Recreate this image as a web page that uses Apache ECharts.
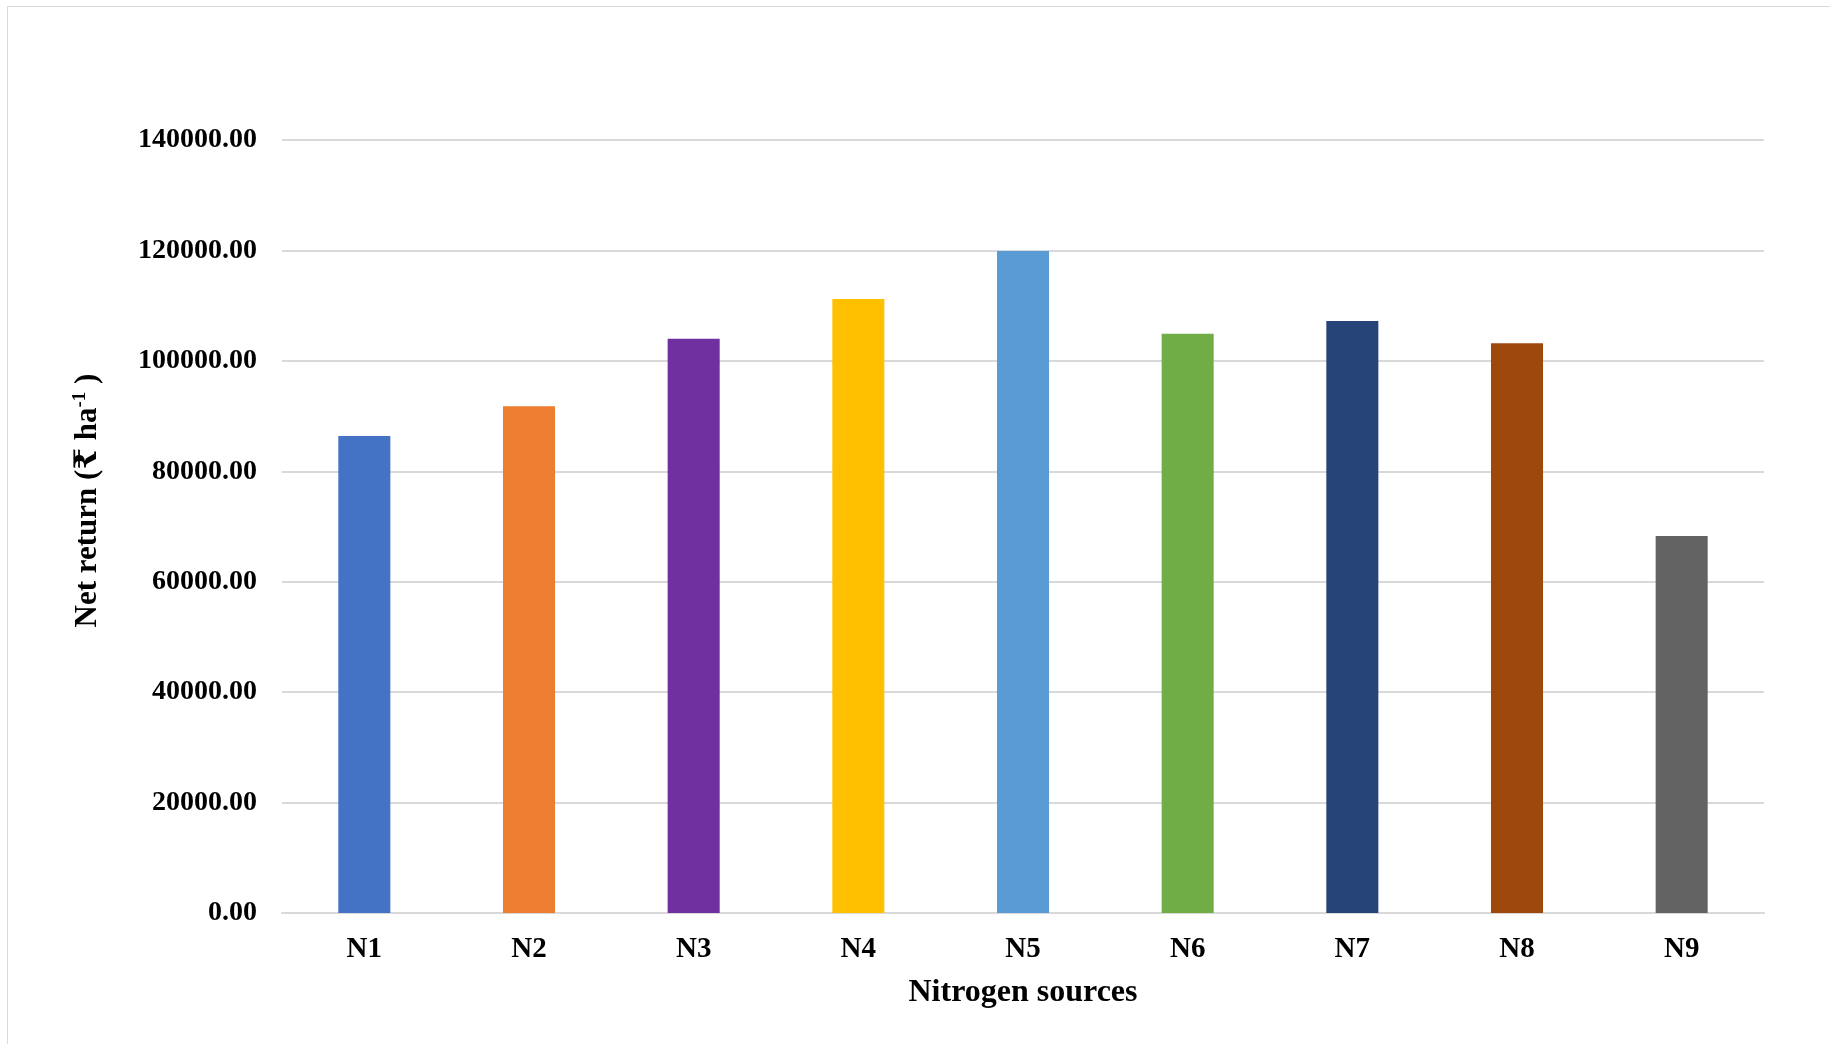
<!DOCTYPE html>
<html>
<head>
<meta charset="utf-8">
<script src="https://cdn.jsdelivr.net/npm/echarts@6/dist/echarts.min.js"></script>
<style>
  html, body { margin: 0; padding: 0; background: #ffffff; }
  #chart { width: 1830px; height: 1044px; }
</style>
</head>
<body>
<div id="chart"></div>
<script>
// Nitrogen source treatments and their net return (Rs per hectare)
const categories = ['N1', 'N2', 'N3', 'N4', 'N5', 'N6', 'N7', 'N8', 'N9'];
const netReturn = [86400, 91800, 104000, 111200, 119900, 104900, 107200, 103200, 68300];
const barColors = ['#4472C4', '#ED7D31', '#7030A0', '#FFC000', '#5B9BD5', '#70AD47', '#264478', '#9E480E', '#636363'];
const yTicks = { min: 0, max: 140000, interval: 20000 };

const serif = '"Liberation Serif", "Times New Roman", "DejaVu Serif", serif';

const chart = echarts.init(document.getElementById('chart'), null, { renderer: 'canvas' });

chart.setOption({
  backgroundColor: '#ffffff',
  animation: false,
  graphic: [{
    type: 'rect',
    shape: { x: 7.5, y: 6.5, width: 1900, height: 1100 },
    style: { fill: 'none', stroke: '#d9d9d9', lineWidth: 1 },
    silent: true
  }],
  grid: { left: 282, right: 66, top: 140, bottom: 131 },
  xAxis: {
    type: 'category',
    data: categories,
    name: 'Nitrogen sources',
    nameLocation: 'middle',
    nameGap: 64,
    nameTextStyle: { fontFamily: serif, fontWeight: 'bold', fontSize: 32, color: '#000000' },
    axisLine: { lineStyle: { color: '#d9d9d9', width: 2 } },
    axisTick: { show: false },
    axisLabel: { fontFamily: serif, fontWeight: 'bold', fontSize: 29, color: '#000000', margin: 22 }
  },
  yAxis: {
    type: 'value',
    min: yTicks.min,
    max: yTicks.max,
    interval: yTicks.interval,
    name: '{b|Net return (₹ ha}{s|-1}{b| )}',
    nameLocation: 'middle',
    nameRotate: 90,
    nameGap: 178,
    nameTextStyle: {
      padding: [0, 0, 0, 52],
      rich: {
        b: { fontFamily: serif, fontWeight: 'bold', fontSize: 31, color: '#000000' },
        s: { fontFamily: serif, fontWeight: 'bold', fontSize: 19, color: '#000000', verticalAlign: 'top', padding: [0, 0, 14, 0] }
      }
    },
    axisLine: { show: false },
    axisTick: { show: false },
    splitLine: { lineStyle: { color: '#d9d9d9', width: 2 } },
    axisLabel: {
      fontFamily: serif, fontWeight: 'bold', fontSize: 28, color: '#000000', margin: 25,
      formatter: v => v.toFixed(2)
    }
  },
  series: [{
    type: 'bar',
    data: netReturn.map((v, i) => ({ value: v, itemStyle: { color: barColors[i] } })),
    barWidth: '31.6%'
  }]
});
</script>
</body>
</html>
